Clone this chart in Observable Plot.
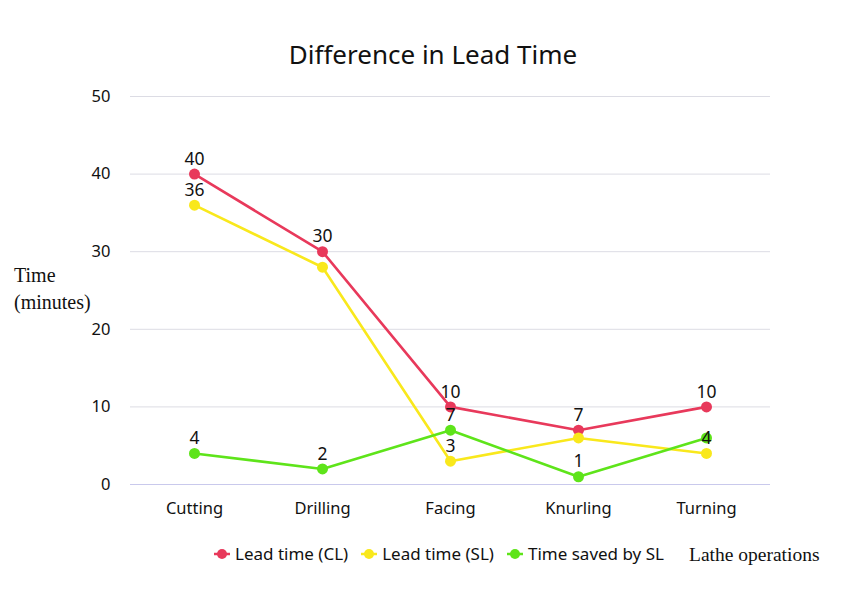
<!DOCTYPE html>
<html><head><meta charset="utf-8">
<script src="https://cdn.jsdelivr.net/npm/d3@7"></script>
<script src="https://cdn.jsdelivr.net/npm/@observablehq/plot@0.6"></script>
<style>
body{margin:0;background:#fff;font-family:"Noto Sans",sans-serif;}
#wrap{position:relative;width:866px;height:590px;overflow:hidden;}
#title{position:absolute;top:36px;left:0;width:866px;text-align:center;font-size:26px;color:#111;line-height:36px;}
#chart{position:absolute;top:80px;left:0;}
#ylabel{position:absolute;left:14px;top:262px;font-family:"Liberation Serif",serif;font-size:20px;line-height:27px;color:#111;}
#legend{position:absolute;top:542px;left:213px;display:flex;align-items:center;font-size:17px;color:#111;}
#legend .item{display:flex;align-items:center;margin-right:12px;}
#legend svg{margin-right:4px;}
#xlabel{position:absolute;left:689px;top:544px;font-family:"Liberation Serif",serif;font-size:19.5px;color:#111;}
</style></head>
<body>
<div id="wrap">
  <div id="title">Difference in Lead Time</div>
  <div id="ylabel">Time<br>(minutes)</div>
  <div id="chart"></div>
  <div id="legend"></div>
  <div id="xlabel">Lathe operations</div>
</div>
<script>
const operations = ["Cutting", "Drilling", "Facing", "Knurling", "Turning"];
const leadTimeCL = [40, 30, 10, 7, 10];
const leadTimeSL = [36, 28, 3, 6, 4];
const timeSavedSL = [4, 2, 7, 1, 6];
const labelsCL = [40, 30, 10, 7, 10];
const labelsSL = [36, null, 3, null, 4];
const labelsSaved = [4, 2, 7, 1, null];
const seriesNames = ["Lead time (CL)", "Lead time (SL)", "Time saved by SL"];
const seriesColors = ["#e8395b", "#f9e81c", "#5ee41a"];
const yTicks = [0, 10, 20, 30, 40, 50];

const seriesValues = [leadTimeCL, leadTimeSL, timeSavedSL];
const seriesLabels = [labelsCL, labelsSL, labelsSaved];
const rows = [];
seriesNames.forEach((s, si) => operations.forEach((op, i) => {
  rows.push({series: s, op, value: seriesValues[si][i], label: seriesLabels[si][i]});
}));

const chart = Plot.plot({
  width: 866, height: 450,
  marginTop: 16, marginBottom: 46, marginLeft: 130, marginRight: 96,
  style: {fontSize: "16px", fontFamily: "'Noto Sans', sans-serif", color: "#111", background: "transparent"},
  x: {type: "point", domain: operations, padding: 0.5, label: null},
  y: {domain: [0, 50], label: null},
  color: {domain: seriesNames, range: seriesColors},
  marks: [
    Plot.gridY(yTicks, {stroke: "#dcdce4", strokeOpacity: 1, strokeWidth: 1}),
    Plot.ruleY([0], {stroke: "#c9c9ec", strokeWidth: 1.2}),
    Plot.axisY(yTicks, {tickSize: 0, tickPadding: 20, label: null, fontSize: 16.5}),
    Plot.axisX({tickSize: 0, tickPadding: 18, label: null, fontSize: 16.5}),
    Plot.line(rows, {x: "op", y: "value", z: "series", stroke: "series", strokeWidth: 2.6}),
    Plot.dot(rows, {x: "op", y: "value", fill: "series", r: 5.5}),
    Plot.text(rows.filter(d => d.label != null), {x: "op", y: "value", text: "label", dy: -15, fontSize: 17.5, fill: "#111"})
  ]
});
document.getElementById("chart").appendChild(chart);

const legend = document.getElementById("legend");
seriesNames.forEach((s, i) => {
  const item = document.createElement("div");
  item.className = "item";
  item.innerHTML = `<svg width="18" height="14"><line x1="1" y1="7" x2="17" y2="7" stroke="${seriesColors[i]}" stroke-width="2.5"/><circle cx="9" cy="7" r="5" fill="${seriesColors[i]}"/></svg><span>${s}</span>`;
  legend.appendChild(item);
});
</script>
</body></html>
